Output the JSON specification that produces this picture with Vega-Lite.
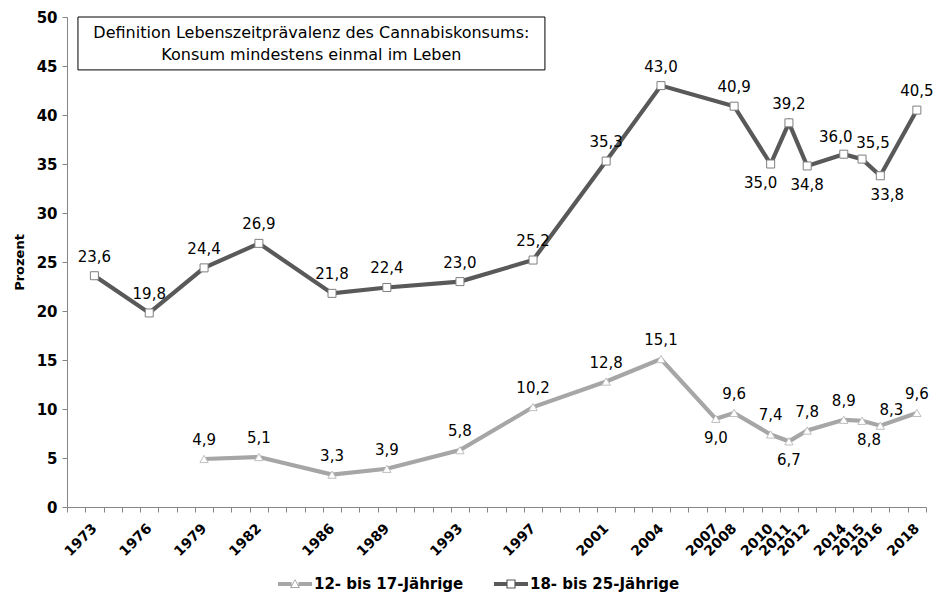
{
  "$schema": "https://vega.github.io/schema/vega-lite/v6.json",
  "width": 859,
  "height": 490,
  "autosize": {"type": "none"},
  "padding": {"left": 67, "top": 17, "right": 10, "bottom": 85},
  "config": {
    "font": "DejaVu Sans",
    "view": {"stroke": null},
    "locale": {"number": {"decimal": ",", "thousands": ".", "grouping": [3], "currency": ["", " €"]}}
  },
  "data": {
    "values": [
      {"Jahr": 1973, "Gruppe": "18- bis 25-Jährige", "Prozent": 23.6},
      {"Jahr": 1976, "Gruppe": "18- bis 25-Jährige", "Prozent": 19.8},
      {"Jahr": 1979, "Gruppe": "18- bis 25-Jährige", "Prozent": 24.4},
      {"Jahr": 1982, "Gruppe": "18- bis 25-Jährige", "Prozent": 26.9},
      {"Jahr": 1986, "Gruppe": "18- bis 25-Jährige", "Prozent": 21.8},
      {"Jahr": 1989, "Gruppe": "18- bis 25-Jährige", "Prozent": 22.4},
      {"Jahr": 1993, "Gruppe": "18- bis 25-Jährige", "Prozent": 23.0},
      {"Jahr": 1997, "Gruppe": "18- bis 25-Jährige", "Prozent": 25.2},
      {"Jahr": 2001, "Gruppe": "18- bis 25-Jährige", "Prozent": 35.3},
      {"Jahr": 2004, "Gruppe": "18- bis 25-Jährige", "Prozent": 43.0},
      {"Jahr": 2008, "Gruppe": "18- bis 25-Jährige", "Prozent": 40.9},
      {"Jahr": 2010, "Gruppe": "18- bis 25-Jährige", "Prozent": 35.0},
      {"Jahr": 2011, "Gruppe": "18- bis 25-Jährige", "Prozent": 39.2},
      {"Jahr": 2012, "Gruppe": "18- bis 25-Jährige", "Prozent": 34.8},
      {"Jahr": 2014, "Gruppe": "18- bis 25-Jährige", "Prozent": 36.0},
      {"Jahr": 2015, "Gruppe": "18- bis 25-Jährige", "Prozent": 35.5},
      {"Jahr": 2016, "Gruppe": "18- bis 25-Jährige", "Prozent": 33.8},
      {"Jahr": 2018, "Gruppe": "18- bis 25-Jährige", "Prozent": 40.5},
      {"Jahr": 1979, "Gruppe": "12- bis 17-Jährige", "Prozent": 4.9},
      {"Jahr": 1982, "Gruppe": "12- bis 17-Jährige", "Prozent": 5.1},
      {"Jahr": 1986, "Gruppe": "12- bis 17-Jährige", "Prozent": 3.3},
      {"Jahr": 1989, "Gruppe": "12- bis 17-Jährige", "Prozent": 3.9},
      {"Jahr": 1993, "Gruppe": "12- bis 17-Jährige", "Prozent": 5.8},
      {"Jahr": 1997, "Gruppe": "12- bis 17-Jährige", "Prozent": 10.2},
      {"Jahr": 2001, "Gruppe": "12- bis 17-Jährige", "Prozent": 12.8},
      {"Jahr": 2004, "Gruppe": "12- bis 17-Jährige", "Prozent": 15.1},
      {"Jahr": 2007, "Gruppe": "12- bis 17-Jährige", "Prozent": 9.0},
      {"Jahr": 2008, "Gruppe": "12- bis 17-Jährige", "Prozent": 9.6},
      {"Jahr": 2010, "Gruppe": "12- bis 17-Jährige", "Prozent": 7.4},
      {"Jahr": 2011, "Gruppe": "12- bis 17-Jährige", "Prozent": 6.7},
      {"Jahr": 2012, "Gruppe": "12- bis 17-Jährige", "Prozent": 7.8},
      {"Jahr": 2014, "Gruppe": "12- bis 17-Jährige", "Prozent": 8.9},
      {"Jahr": 2015, "Gruppe": "12- bis 17-Jährige", "Prozent": 8.8},
      {"Jahr": 2016, "Gruppe": "12- bis 17-Jährige", "Prozent": 8.3},
      {"Jahr": 2018, "Gruppe": "12- bis 17-Jährige", "Prozent": 9.6}
    ]
  },
  "encoding": {
    "x": {
      "field": "Jahr",
      "type": "quantitative",
      "scale": {"domain": [1971.5, 2018.5], "nice": false, "zero": false},
      "axis": {
        "title": null,
        "grid": false,
        "values": [1971.5, 1972.5, 1973.5, 1974.5, 1975.5, 1976.5, 1977.5, 1978.5, 1979.5, 1980.5, 1981.5, 1982.5, 1983.5, 1984.5, 1985.5, 1986.5, 1987.5, 1988.5, 1989.5, 1990.5, 1991.5, 1992.5, 1993.5, 1994.5, 1995.5, 1996.5, 1997.5, 1998.5, 1999.5, 2000.5, 2001.5, 2002.5, 2003.5, 2004.5, 2005.5, 2006.5, 2007.5, 2008.5, 2009.5, 2010.5, 2011.5, 2012.5, 2013.5, 2014.5, 2015.5, 2016.5, 2017.5, 2018.5, 1973, 1976, 1979, 1982, 1986, 1989, 1993, 1997, 2001, 2004, 2007, 2008, 2010, 2011, 2012, 2014, 2015, 2016, 2018],
        "labelExpr": "datum.value % 1 == 0 ? '' + datum.value : ''",
        "labelAngle": -45,
        "labelAlign": "right",
        "labelBaseline": "middle",
        "labelFontSize": 14,
        "labelFontWeight": "bold",
        "labelColor": "black",
        "labelOverlap": false,
        "labelBound": false,
        "labelFlush": false,
        "labelPadding": 14,
        "tickSize": 5,
        "tickColor": "#868686",
        "domainColor": "#868686",
        "tickOpacity": {"condition": {"test": "datum.value % 1 == 0", "value": 0}, "value": 1}
      }
    },
    "y": {
      "field": "Prozent",
      "type": "quantitative",
      "scale": {"domain": [0, 50], "nice": false},
      "axis": {
        "title": "Prozent",
        "titleFontSize": 13,
        "titleFontWeight": "bold",
        "titleColor": "black",
        "titlePadding": 10,
        "values": [0, 5, 10, 15, 20, 25, 30, 35, 40, 45, 50],
        "format": "d",
        "grid": false,
        "labelFontSize": 15,
        "labelFontWeight": "bold",
        "labelColor": "black",
        "labelPadding": 5,
        "tickSize": 5,
        "tickColor": "#868686",
        "domainColor": "#868686"
      }
    }
  },
  "layer": [
    {
      "transform": [{"filter": "datum.Gruppe === '18- bis 25-Jährige' && datum.Jahr === 1973"}],
      "mark": {"type": "rect", "fill": "white", "stroke": "black", "strokeWidth": 1},
      "encoding": {
        "x": {"datum": 1972.1, "type": "quantitative"},
        "x2": {"datum": 1997.65},
        "y": {"datum": 50, "type": "quantitative"},
        "y2": {"datum": 44.6}
      }
    },
    {
      "transform": [{"filter": "datum.Gruppe === '18- bis 25-Jährige' && datum.Jahr === 1973"}],
      "mark": {"type": "text", "fontSize": 16, "color": "black", "align": "center", "baseline": "middle", "lineHeight": 22, "text": ["Definition Lebenszeitprävalenz des Cannabiskonsums:", "Konsum mindestens einmal im Leben"]},
      "encoding": {
        "x": {"datum": 1984.87, "type": "quantitative"},
        "y": {"datum": 48.35, "type": "quantitative"}
      }
    },
    {
      "mark": {"type": "line", "strokeWidth": 4.2},
      "encoding": {
        "color": {
          "field": "Gruppe",
          "type": "nominal",
          "scale": {"domain": ["12- bis 17-Jährige", "18- bis 25-Jährige"], "range": ["#a6a6a6", "#595959"]},
          "legend": {
            "orient": "none",
            "legendX": 211,
            "legendY": 550,
            "direction": "horizontal",
            "title": null,
            "labelFontSize": 15,
            "labelFontWeight": "bold",
            "labelColor": "black",
            "symbolSize": 1156,
            "columnPadding": 30,
            "labelOffset": 2,
            "encode": {
              "symbols": {
                "update": {
                  "shape": {"signal": "datum.value === '12- bis 17-Jährige' ? 'M-1,-0.12L-0.2,-0.12L-0.2,0.12L-1,0.12Z M0.2,-0.12L1,-0.12L1,0.12L0.2,0.12Z M0,-0.3L0.3,0.24L-0.3,0.24Z M0,-0.2L-0.2,0.17L0.2,0.17Z' : 'M-1,-0.12L-0.27,-0.12L-0.27,0.12L-1,0.12Z M0.27,-0.12L1,-0.12L1,0.12L0.27,0.12Z M-0.27,-0.27L0.27,-0.27L0.27,0.27L-0.27,0.27Z M-0.2,-0.2L-0.2,0.2L0.2,0.2L0.2,-0.2Z'"},
                  "fill": {"scale": "color", "field": "value"},
                  "strokeWidth": {"value": 0},
                  "opacity": {"value": 1}
                }
              }
            }
          }
        }
      }
    },
    {
      "transform": [{"filter": "datum.Gruppe === '18- bis 25-Jährige'"}],
      "mark": {"type": "point", "shape": "square", "filled": true, "fill": "white", "stroke": "#7f7f7f", "strokeWidth": 1, "size": 64, "opacity": 1}
    },
    {
      "transform": [{"filter": "datum.Gruppe === '12- bis 17-Jährige'"}],
      "mark": {"type": "point", "shape": "triangle-up", "filled": true, "fill": "white", "stroke": "#bfbfbf", "strokeWidth": 1, "size": 70, "opacity": 1}
    },
    {
      "transform": [{"filter": "!((datum.Gruppe === '18- bis 25-Jährige' && indexof([2010, 2012, 2014, 2015, 2016], datum.Jahr) >= 0) || (datum.Gruppe === '12- bis 17-Jährige' && indexof([2007, 2011, 2015, 2016], datum.Jahr) >= 0))"}],
      "mark": {"type": "text", "fontSize": 15, "color": "black", "baseline": "middle", "dy": -19},
      "encoding": {"text": {"field": "Prozent", "type": "quantitative", "format": ".1f"}}
    },
    {
      "transform": [{"filter": "datum.Gruppe === '18- bis 25-Jährige' && datum.Jahr === 2014"}],
      "mark": {"type": "text", "fontSize": 15, "color": "black", "baseline": "middle", "dy": -17, "dx": -8},
      "encoding": {"text": {"field": "Prozent", "type": "quantitative", "format": ".1f"}}
    },
    {
      "transform": [{"filter": "(datum.Gruppe === '18- bis 25-Jährige' && datum.Jahr === 2015) || (datum.Gruppe === '12- bis 17-Jährige' && datum.Jahr === 2016)"}],
      "mark": {"type": "text", "fontSize": 15, "color": "black", "baseline": "middle", "dy": -16, "dx": 11},
      "encoding": {"text": {"field": "Prozent", "type": "quantitative", "format": ".1f"}}
    },
    {
      "transform": [{"filter": "(datum.Gruppe === '18- bis 25-Jährige' && datum.Jahr === 2012) || (datum.Gruppe === '12- bis 17-Jährige' && indexof([2007, 2011], datum.Jahr) >= 0)"}],
      "mark": {"type": "text", "fontSize": 15, "color": "black", "baseline": "middle", "dy": 19},
      "encoding": {"text": {"field": "Prozent", "type": "quantitative", "format": ".1f"}}
    },
    {
      "transform": [{"filter": "datum.Gruppe === '18- bis 25-Jährige' && datum.Jahr === 2010"}],
      "mark": {"type": "text", "fontSize": 15, "color": "black", "baseline": "middle", "dy": 19, "dx": -10},
      "encoding": {"text": {"field": "Prozent", "type": "quantitative", "format": ".1f"}}
    },
    {
      "transform": [{"filter": "(datum.Gruppe === '18- bis 25-Jährige' && datum.Jahr === 2016) || (datum.Gruppe === '12- bis 17-Jährige' && datum.Jahr === 2015)"}],
      "mark": {"type": "text", "fontSize": 15, "color": "black", "baseline": "middle", "dy": 19, "dx": 7},
      "encoding": {"text": {"field": "Prozent", "type": "quantitative", "format": ".1f"}}
    }
  ]
}
